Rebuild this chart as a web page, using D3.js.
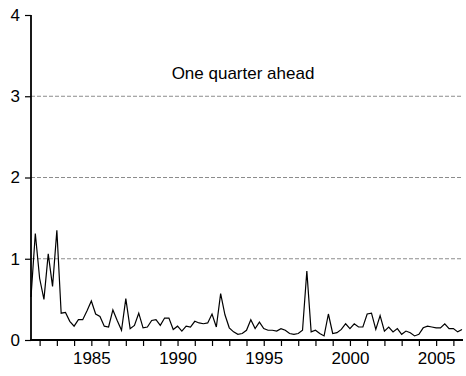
<!DOCTYPE html>
<html>
<head>
<meta charset="utf-8">
<script src="https://cdn.jsdelivr.net/npm/d3@7"></script>
<style>
  html, body { margin: 0; padding: 0; background: #fff; }
  svg { display: block; }
  text { font-family: "Liberation Sans", Arial, sans-serif; fill: #000; }
</style>
</head>
<body>
<script>
// Quarterly series, first observation 1981Q3
const startYear = 1981;
const startQuarter = 3;
const values = [
  0.53, 1.31, 0.76, 0.50, 1.06, 0.66, 1.35, 0.33, 0.34, 0.23,
  0.17, 0.25, 0.25, 0.36, 0.48, 0.32, 0.29, 0.17, 0.16, 0.37,
  0.24, 0.12, 0.51, 0.14, 0.18, 0.33, 0.15, 0.16, 0.24, 0.25,
  0.18, 0.27, 0.27, 0.13, 0.17, 0.11, 0.17, 0.16, 0.23, 0.21,
  0.20, 0.21, 0.32, 0.16, 0.57, 0.31, 0.15, 0.10, 0.07, 0.08,
  0.12, 0.25, 0.14, 0.22, 0.14, 0.12, 0.12, 0.11, 0.14, 0.12,
  0.08, 0.07, 0.08, 0.12, 0.85, 0.10, 0.12, 0.08, 0.05, 0.32,
  0.08, 0.09, 0.13, 0.20, 0.14, 0.20, 0.16, 0.16, 0.32, 0.33,
  0.13, 0.30, 0.11, 0.16, 0.10, 0.14, 0.07, 0.11, 0.09, 0.05,
  0.07, 0.15, 0.17, 0.16, 0.15, 0.15, 0.20, 0.14, 0.14, 0.10,
  0.13
];
const yTicks = [0, 1, 2, 3, 4];
const gridLevels = [1, 2, 3];
const yearLabels = [1985, 1990, 1995, 2000, 2005];
const title = "One quarter ahead";

const W = 466, H = 376;
const plotLeft = 31, plotRight = 462, plotTop = 15, plotBottom = 340;
const fontSize = 17;

// time of each observation in fractional years
const t = values.map((v, i) => startYear + (startQuarter - 1) / 4 + i / 4);

const x = d3.scaleLinear().domain([t[0], t[t.length - 1]]).range([plotLeft, plotRight]);
const y = d3.scaleLinear().domain([0, 4]).range([plotBottom, plotTop]);

const svg = d3.select("body").append("svg").attr("width", W).attr("height", H);

// dashed reference lines
svg.append("g").selectAll("line").data(gridLevels).join("line")
  .attr("x1", plotLeft).attr("x2", plotRight)
  .attr("y1", d => y(d)).attr("y2", d => y(d))
  .attr("stroke", "#8c8c8c").attr("stroke-width", 1)
  .attr("stroke-dasharray", "4,2");

// yearly ticks along the bottom, labels every five years
const years = d3.range(Math.ceil(t[0]), Math.floor(t[t.length - 1]) + 1);
const xAxis = d3.axisBottom(x)
  .tickValues(years)
  .tickSize(6)
  .tickPadding(6)
  .tickFormat(d => yearLabels.includes(d) ? String(d) : "");
const gx = svg.append("g").attr("transform", `translate(0,${plotBottom})`).call(xAxis);
gx.select(".domain").remove();
gx.selectAll(".tick line").attr("stroke", "#000").attr("stroke-width", 1.2);
gx.selectAll(".tick text").attr("font-size", fontSize).style("font-family", '"Liberation Sans", Arial, sans-serif');
gx.append("line").attr("x1", plotLeft - 1).attr("x2", plotRight + 1).attr("y1", 0).attr("y2", 0)
  .attr("stroke", "#000").attr("stroke-width", 1.8);

// vertical axis
const yAxis = d3.axisLeft(y).tickValues(yTicks).tickSize(6).tickPadding(5).tickFormat(d3.format("d"));
const gy = svg.append("g").attr("transform", `translate(${plotLeft},0)`).call(yAxis);
gy.select(".domain").remove();
gy.selectAll(".tick line").attr("stroke", "#000").attr("stroke-width", 1.2);
gy.selectAll(".tick text").attr("font-size", fontSize).style("font-family", '"Liberation Sans", Arial, sans-serif');
gy.append("line").attr("x1", 0).attr("x2", 0).attr("y1", y(4)).attr("y2", plotBottom + 1)
  .attr("stroke", "#000").attr("stroke-width", 1.8);

// series
const line = d3.line().x((d, i) => x(t[i])).y(d => y(d));
svg.append("path").datum(values)
  .attr("d", line)
  .attr("fill", "none")
  .attr("stroke", "#000")
  .attr("stroke-width", 1.2)
  .attr("stroke-linejoin", "miter");

svg.append("text")
  .attr("x", 243)
  .attr("y", 78.5)
  .attr("text-anchor", "middle")
  .attr("font-size", fontSize)
  .text(title);
</script>
</body>
</html>
